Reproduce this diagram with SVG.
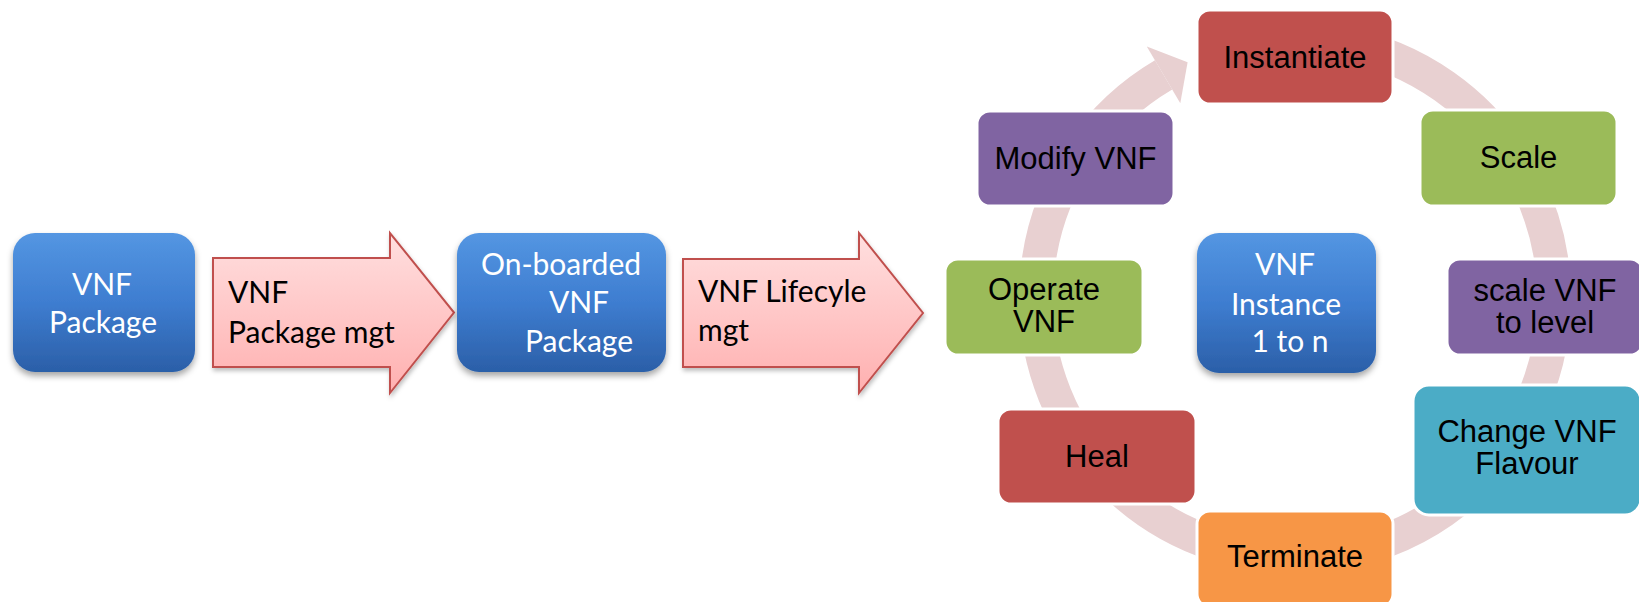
<svg xmlns="http://www.w3.org/2000/svg" width="1639" height="602" viewBox="0 0 1639 602">
<defs>
<linearGradient id="blueGrad" x1="0" y1="0" x2="0" y2="1">
<stop offset="0" stop-color="#5496E2"/>
<stop offset="0.5" stop-color="#3E7DD0"/>
<stop offset="1" stop-color="#2B5FA8"/>
</linearGradient>
<linearGradient id="pinkGrad" x1="0" y1="0" x2="0" y2="1">
<stop offset="0" stop-color="#FFDFDF"/>
<stop offset="1" stop-color="#FFB0B0"/>
</linearGradient>
<filter id="shadow" x="-10%" y="-10%" width="125%" height="130%">
<feDropShadow dx="0" dy="4" stdDeviation="3" flood-color="#000" flood-opacity="0.35"/>
</filter>
<filter id="shadowSm" x="-10%" y="-10%" width="125%" height="130%">
<feDropShadow dx="1" dy="3" stdDeviation="2" flood-color="#000" flood-opacity="0.25"/>
</filter>
</defs>
<style>
.blue { fill: url(#blueGrad); filter: url(#shadow); }
.btxt { font-family: Lato, "Liberation Sans", sans-serif; font-size: 30px; fill: #FFFFFF; text-anchor: middle; }
.arrow { fill: url(#pinkGrad); stroke: #C0504D; stroke-width: 2; filter: url(#shadowSm); }
.atxt { font-family: Lato, "Liberation Sans", sans-serif; font-size: 30px; fill: #000000; }
.box { stroke: #FFFFFF; stroke-width: 3; }
.ctxt { font-family: "Liberation Sans", Arial, sans-serif; font-size: 31px; fill: #000000; text-anchor: middle; }
.ring { fill: none; stroke: #E8D0D1; stroke-width: 34; }
</style>

<g id="connectors">
<path class="ring" d="M 1340.0 42.9 A 259 259 0 1 1 1163.6 74.8"/>
<polygon fill="#E8D0D1" points="1146.8,46.4 1187.6,62.3 1180.3,103.3"/>
</g>

<g id="vnf-package">
<rect class="blue" x="13" y="233" width="182" height="139" rx="22"/>
<text class="btxt" x="102" y="295">VNF</text>
<text class="btxt" x="103" y="333">Package</text>
</g>

<g id="arrow-package-mgt">
<path class="arrow" d="M213,258 L390,258 L390,233 L454,312.5 L390,393 L390,367 L213,367 Z"/>
<text class="atxt" x="228" y="303">VNF</text>
<text class="atxt" x="228" y="343">Package mgt</text>
</g>

<g id="onboarded-package">
<rect class="blue" x="457" y="233" width="209" height="139" rx="22"/>
<text class="btxt" x="561" y="275">On-boarded</text>
<text class="btxt" x="579" y="313">VNF</text>
<text class="btxt" x="579" y="352">Package</text>
</g>

<g id="arrow-lifecycle-mgt">
<path class="arrow" d="M683,259 L859,259 L859,233 L923,313 L859,393 L859,367 L683,367 Z"/>
<text class="atxt" x="698" y="302">VNF Lifecyle</text>
<text class="atxt" x="698" y="341">mgt</text>
</g>

<g id="vnf-instance">
<rect class="blue" x="1197" y="233" width="179" height="140" rx="22"/>
<text class="btxt" x="1285" y="275">VNF</text>
<text class="btxt" x="1286" y="315">Instance</text>
<text class="btxt" x="1290" y="352">1 to n</text>
</g>

<g id="instantiate">
<rect class="box" x="1197" y="10" width="196" height="94" rx="13" fill="#C0504D"/>
<text class="ctxt" x="1295" y="68">Instantiate</text>
</g>

<g id="modify-vnf">
<rect class="box" x="977" y="111" width="197" height="95" rx="13" fill="#8064A2"/>
<text class="ctxt" x="1075.5" y="169">Modify VNF</text>
</g>

<g id="scale">
<rect class="box" x="1420" y="110" width="197" height="96" rx="13" fill="#9BBB59"/>
<text class="ctxt" x="1518.5" y="168">Scale</text>
</g>

<g id="operate-vnf">
<rect class="box" x="945" y="259" width="198" height="96" rx="13" fill="#9BBB59"/>
<text class="ctxt" x="1044" y="300">Operate</text>
<text class="ctxt" x="1044" y="332">VNF</text>
</g>

<g id="scale-to-level">
<rect class="box" x="1447" y="259" width="196" height="96" rx="13" fill="#8064A2"/>
<text class="ctxt" x="1545" y="301">scale VNF</text>
<text class="ctxt" x="1545" y="333">to level</text>
</g>

<g id="change-flavour">
<rect class="box" x="1413" y="385" width="228" height="130" rx="16" fill="#4BACC6"/>
<text class="ctxt" x="1527" y="442">Change VNF</text>
<text class="ctxt" x="1527" y="474">Flavour</text>
</g>

<g id="heal">
<rect class="box" x="998" y="409" width="198" height="95" rx="13" fill="#C0504D"/>
<text class="ctxt" x="1097" y="467">Heal</text>
</g>

<g id="terminate">
<rect class="box" x="1197" y="511" width="196" height="96" rx="13" fill="#F79646"/>
<text class="ctxt" x="1295" y="567">Terminate</text>
</g>
</svg>
